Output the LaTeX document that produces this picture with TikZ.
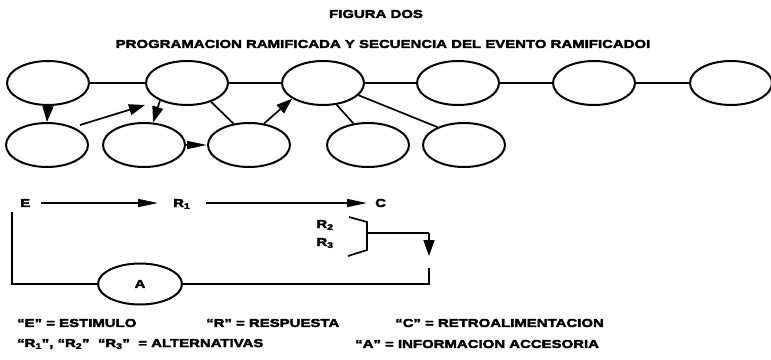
\documentclass[tikz,border=0pt]{standalone}
\usepackage{fontspec}
\newfontfamily\blk{Liberation Sans}[FakeStretch=1.3,FakeBold=3]
\usetikzlibrary{shapes.geometric,arrows.meta,calc}
\begin{document}
\begin{tikzpicture}[x=1pt,y=-1pt,
  ov/.style={ellipse,draw,line width=2pt,minimum width=82pt,minimum height=44pt,inner sep=0pt},
  ln/.style={line width=1.7pt},
  arr/.style={line width=1.7pt,-{Triangle[length=16pt,width=11pt]}},
  harr/.style={line width=1.6pt,-{Triangle[length=20pt,width=8pt]}},
  lab/.style={font=\blk\bfseries\fontsize{11.5}{13}\selectfont,inner sep=0pt},
]
\useasboundingbox (0,0) rectangle (771,359);
% titles
\node[lab] (tit1) at (376,14) {FIGURA DOS};
\node[lab] (tit2) at (383,44) {PROGRAMACION RAMIFICADA Y SECUENCIA DEL EVENTO RAMIFICADOI};
% top row
\node[ov] (t1) at (48,83) {};
\node[ov] (t2) at (187,83) {};
\node[ov] (t3) at (323,83) {};
\node[ov] (t4) at (458,83) {};
\node[ov] (t5) at (594,83) {};
\node[ov] (t6) at (731,83) {};
% bottom row
\node[ov] (b1) at (47,145) {};
\node[ov] (b2) at (144,145) {};
\node[ov] (b3) at (249,145) {};
\node[ov] (b4) at (368,145) {};
\node[ov] (b5) at (464,145) {};
% top connections
\draw[ln] (t1.east) -- (t2.west);
\draw[ln] (t2.east) -- (t3.west);
\draw[ln] (t3.east) -- (t4.west);
\draw[ln] (t4.east) -- (t5.west);
\draw[ln] (t5.east) -- (t6.west);
% branches
\draw[arr] (t1.south) -- (b1.north);
\coordinate (fa) at (80,125);
\coordinate (fb) at (145,105);
\draw[arr] (fa) -- (fb);
\draw[arr] (t2.213) -- (b2.68);
\draw[ln] (t2.322) -- (b3.126);
\draw[harr] (b2.east) -- (b3.west);
\draw[arr] (b3.55) -- (t3.207);
\draw[ln] (t3.302) -- (b4.124);
\draw[ln] (t3.341) -- (b5.146);
% sequence
\node[lab,anchor=west] (E) at (20,203) {E};
\node[lab,anchor=base west] (R1) at ([yshift=-4pt]173,203) {R\textsubscript{1}};
\node[lab,anchor=west] (C) at (375,203) {C};
\draw[harr,shorten <=11pt,shorten >=15pt] (E.east) -- (E.east -| R1.west);
\draw[harr,shorten <=15pt,shorten >=8pt] (E.east -| R1.east) -- (E.east -| C.west);
\node[lab] (R2) at (325,225) {R\textsubscript{2}};
\node[lab] (R3) at (325,243) {R\textsubscript{3}};
\coordinate (k1) at (349,217);
\coordinate (k2) at (367,222);
\coordinate (k3) at (367,250);
\coordinate (k4) at (348,256);
\coordinate (km) at (367,233);
\coordinate (kr) at (429,233);
\coordinate (kd) at (429,256);
\draw[ln] (k1) -- (k2) -- (k3) -- (k4);
\draw[ln] (km) -- (kr);
\draw[arr] (kr) -- (kd);
% feedback loop
\node[ov,minimum width=84pt,minimum height=41pt,font=\blk\bfseries\fontsize{11.5}{13}\selectfont] (A) at (140,284) {A};
\coordinate (lt) at (12,212);
\coordinate (lb) at (12,284);
\coordinate (rb) at (429,284);
\coordinate (rt) at (429,268);
\draw[ln] (lt) -- (lb) -- (A.west);
\draw[ln] (A.east) -- (rb) -- (rt);
% legend
\node[lab,anchor=west] (lg1) at (17,323) {“E” = ESTIMULO};
\node[lab,anchor=west] (lg2) at (206,323) {“R” = RESPUESTA};
\node[lab,anchor=west] (lg3) at (395,323) {“C” = RETROALIMENTACION};
\node[lab,anchor=west] (lg4) at (17,344) {“R\textsubscript{1}”,\ “R\textsubscript{2}”\ \ “R\textsubscript{3}”\ \ = ALTERNATIVAS};
\node[lab,anchor=west] (lg5) at (355,344) {“A” = INFORMACION ACCESORIA};
\end{tikzpicture}
\end{document}
